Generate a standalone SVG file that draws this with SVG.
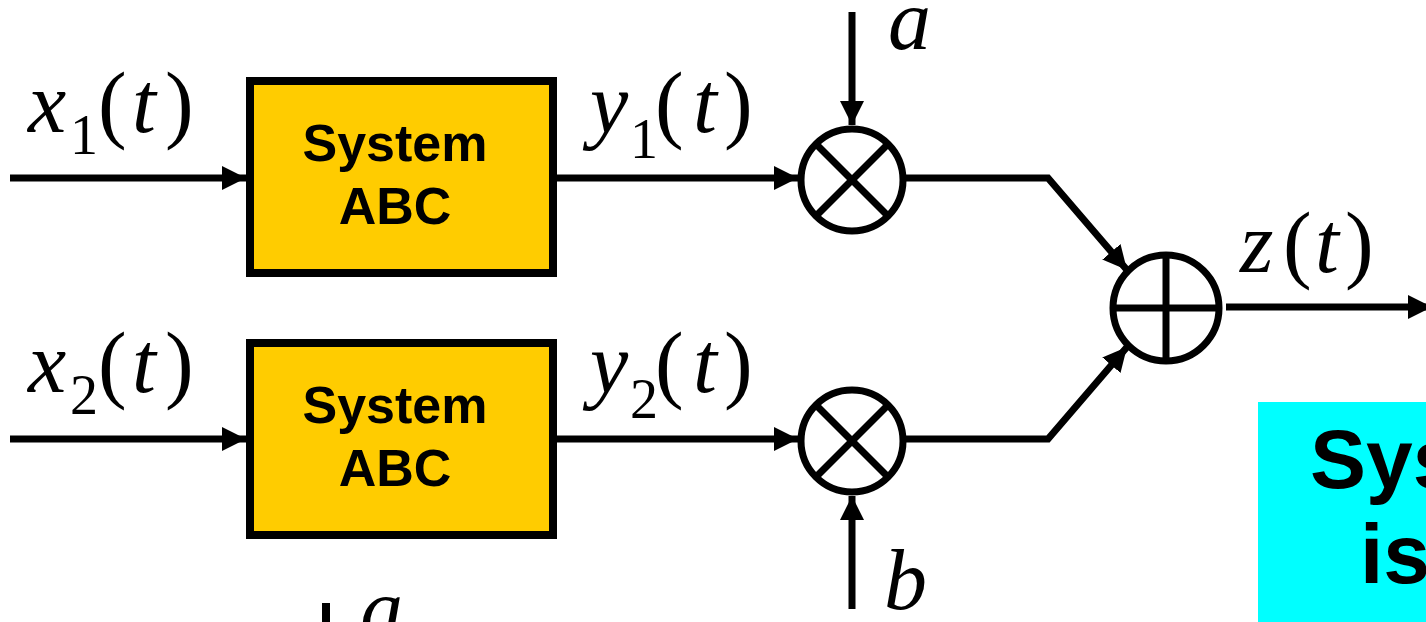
<svg xmlns="http://www.w3.org/2000/svg" width="1426" height="622" viewBox="0 0 1426 622">
<style>
.ln{stroke:#000;stroke-width:7;fill:none}
.box{fill:#FFCC00;stroke:#000;stroke-width:8}
.op{fill:#fff;stroke:#000;stroke-width:7}
.bt{font-family:"Liberation Sans",Arial,sans-serif;font-weight:bold;font-size:52px;text-anchor:middle;fill:#000}
.m{font-family:"Liberation Serif","Times New Roman",serif;font-size:86px;fill:#000}
.i{font-style:italic}
.s{font-size:56px}
.ct{font-family:"Liberation Sans",Arial,sans-serif;font-weight:bold;font-size:84px;fill:#000}
</style>
<defs>
<marker id="ah" markerUnits="userSpaceOnUse" markerWidth="24" markerHeight="24" viewBox="0 0 24 24" refX="24" refY="12" orient="auto">
<path d="M0,0 L24,12 L0,24 Z" fill="#000"/>
</marker>
</defs>
<g id="connectors">
<line class="ln" x1="10" y1="178" x2="246" y2="178" marker-end="url(#ah)"/>
<line class="ln" x1="10" y1="439" x2="246" y2="439" marker-end="url(#ah)"/>
<line class="ln" x1="557" y1="178" x2="798" y2="178" marker-end="url(#ah)"/>
<line class="ln" x1="557" y1="439" x2="798" y2="439" marker-end="url(#ah)"/>
<line class="ln" x1="852" y1="12" x2="852" y2="125" marker-end="url(#ah)"/>
<line class="ln" x1="852" y1="609" x2="852" y2="496" marker-end="url(#ah)"/>
<polyline class="ln" points="906,178 1048,178 1127,270" marker-end="url(#ah)"/>
<polyline class="ln" points="906,439 1048,439 1127,347" marker-end="url(#ah)"/>
<line class="ln" x1="1226" y1="307" x2="1432" y2="307" marker-end="url(#ah)"/>
<line x1="326" y1="603" x2="326" y2="622" stroke="#000" stroke-width="8"/>
</g>
<g id="sys1">
<rect class="box" x="250" y="81" width="303" height="192"/>
<text class="bt" x="395" y="161">System</text>
<text class="bt" x="395" y="224">ABC</text>
</g>
<g id="sys2">
<rect class="box" x="250" y="343" width="303" height="192"/>
<text class="bt" x="395" y="423">System</text>
<text class="bt" x="395" y="486">ABC</text>
</g>
<g id="mul1">
<circle class="op" cx="852" cy="180" r="51"/>
<line class="ln" x1="816" y1="144" x2="888" y2="216"/>
<line class="ln" x1="888" y1="144" x2="816" y2="216"/>
</g>
<g id="mul2">
<circle class="op" cx="852" cy="441" r="51"/>
<line class="ln" x1="816" y1="405" x2="888" y2="477"/>
<line class="ln" x1="888" y1="405" x2="816" y2="477"/>
</g>
<g id="sum">
<circle class="op" cx="1166" cy="308" r="53"/>
<line class="ln" x1="1113" y1="308" x2="1219" y2="308"/>
<line class="ln" x1="1166" y1="255" x2="1166" y2="361"/>
</g>
<g id="labels">
<text class="m" y="132"><tspan class="i" x="28">x</tspan><tspan class="s" x="70" y="154">1</tspan><tspan x="98" y="132">(</tspan><tspan class="i" x="132">t</tspan><tspan x="165">)</tspan></text>
<text class="m" y="392"><tspan class="i" x="28">x</tspan><tspan class="s" x="70" y="414">2</tspan><tspan x="98" y="392">(</tspan><tspan class="i" x="132">t</tspan><tspan x="165">)</tspan></text>
<text class="m" y="132"><tspan class="i" x="590">y</tspan><tspan class="s" x="630" y="158">1</tspan><tspan x="655" y="132">(</tspan><tspan class="i" x="693">t</tspan><tspan x="724">)</tspan></text>
<text class="m" y="392"><tspan class="i" x="590">y</tspan><tspan class="s" x="630" y="418">2</tspan><tspan x="655" y="392">(</tspan><tspan class="i" x="693">t</tspan><tspan x="724">)</tspan></text>
<text class="m" y="272"><tspan class="i" x="1240">z</tspan><tspan x="1283">(</tspan><tspan class="i" x="1315">t</tspan><tspan x="1345">)</tspan></text>
<text class="m i" x="888" y="49">a</text>
<text class="m i" x="884" y="609">b</text>
<text class="m i" x="360" y="638">a</text>
</g>
<g id="note">
<rect x="1258" y="402" width="180" height="230" fill="#00FFFF"/>
<text class="ct" x="1310" y="488">Sys</text>
<text class="ct" x="1360" y="583">is</text>
</g>
</svg>
